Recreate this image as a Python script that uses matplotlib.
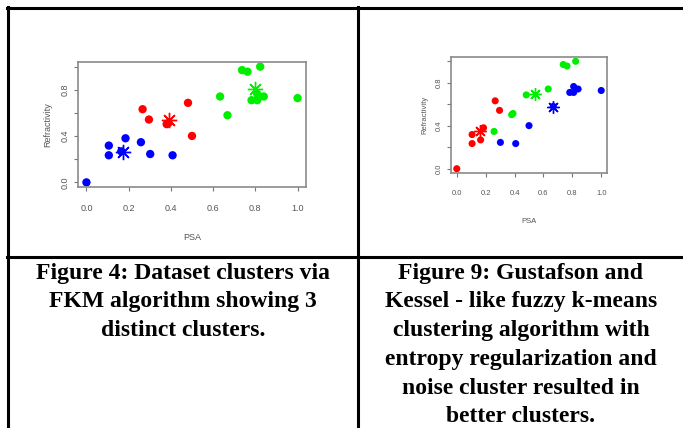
import matplotlib
matplotlib.use("Agg")
import matplotlib.pyplot as plt
from matplotlib.lines import Line2D

# shared data (PSA vs Refractivity, 24 points)
psa = [0.0, 0.106, 0.106, 0.165, 0.185, 0.258, 0.302, 0.408,
       0.266, 0.296, 0.38, 0.389, 0.481, 0.5,
       0.633, 0.668, 0.737, 0.763, 0.823, 0.782, 0.809, 0.809, 0.84, 1.0]
refr = [0.0, 0.318, 0.234, 0.268, 0.381, 0.347, 0.245, 0.234,
        0.632, 0.543, 0.503, 0.514, 0.687, 0.401,
        0.742, 0.58, 0.97, 0.956, 1.0, 0.71, 0.71, 0.765, 0.742, 0.728]

BLUE, RED, GREEN = "#0000ff", "#ff0000", "#00ee00"

# cluster labels for each figure
fkm_labels = [BLUE] * 8 + [RED] * 6 + [GREEN] * 10
gk_labels = [RED, RED, RED, RED, RED, GREEN, BLUE, BLUE,
             RED, RED, GREEN, GREEN, GREEN, BLUE,
             GREEN, BLUE, GREEN, GREEN, GREEN, BLUE, BLUE, BLUE, BLUE, BLUE]

# cluster centres
fkm_cx = [0.171, 0.389, 0.799]
fkm_cy = [0.266, 0.543, 0.803]
fkm_cc = [BLUE, RED, GREEN]
gk_cx = [0.161, 0.544, 0.664]
gk_cy = [0.35, 0.697, 0.578]
gk_cc = [RED, GREEN, BLUE]

x_ticks = [0.0, 0.2, 0.4, 0.6, 0.8, 1.0]
x_ticklabels = ["0.0", "0.2", "0.4", "0.6", "0.8", "1.0"]
y_ticks = [0.0, 0.2, 0.4, 0.6, 0.8, 1.0]
y_ticklabels = ["0.0", "", "0.4", "", "0.8", ""]

cap_left = ["Figure 4: Dataset clusters via",
            "FKM algorithm showing 3",
            "distinct clusters."]
cap_right = ["Figure 9: Gustafson and",
             "Kessel - like fuzzy k-means",
             "clustering algorithm with",
             "entropy regularization and",
             "noise cluster resulted in",
             "better clusters."]

W, H = 683, 428
fig = plt.figure(figsize=(W / 100, H / 100), dpi=100)
fig.patch.set_facecolor("white")
plt.rcParams["font.family"] = ["Liberation Sans", "DejaVu Sans"]


def r_plot(box, labels, cx, cy, cc, ms, star_ms, fs, tick_pad, xlab_pad, ylab_pad):
    l, t, r, b = box
    ax = fig.add_axes([l / W, 1 - b / H, (r - l) / W, (b - t) / H])
    ax.scatter(psa, refr, c=labels, s=ms, linewidths=0, zorder=2)
    for x, y, c in zip(cx, cy, cc):
        ax.plot(x, y, marker=(8, 2, 0), color=c, markersize=star_ms, mew=1.0, zorder=3)
    ax.set_xlim(-0.04, 1.04)
    ax.set_ylim(-0.04, 1.04)
    ax.set_xticks(x_ticks)
    ax.set_xticklabels(x_ticklabels)
    ax.set_yticks(y_ticks)
    ax.set_yticklabels(y_ticklabels, rotation=90, va="center")
    for s in ax.spines.values():
        s.set_color("#8a8a8a")
        s.set_linewidth(1.2)
    ax.tick_params(direction="out", length=3, width=0.8, color="#777777",
                   labelcolor="#555555", labelsize=fs)
    ax.tick_params(axis="x", pad=tick_pad)
    ax.tick_params(axis="y", pad=3)
    ax.set_xlabel("PSA", fontsize=fs, color="#555555", labelpad=xlab_pad)
    ax.set_ylabel("Refractivity", fontsize=fs, color="#555555", labelpad=ylab_pad)
    return ax


r_plot((78, 62, 306, 187), fkm_labels, fkm_cx, fkm_cy, fkm_cc, 36, 11, 6.5, 9, 15, 6)
r_plot((451, 57, 607, 173), gk_labels, gk_cx, gk_cy, gk_cc, 26, 9, 5.5, 9, 15, 5)

# table borders
lw = 2.2
fig.add_artist(Line2D([7 / W, 1], [1 - 8 / H, 1 - 8 / H], color="black", lw=lw))
fig.add_artist(Line2D([7 / W, 1], [1 - 257 / H, 1 - 257 / H], color="black", lw=lw))
fig.add_artist(Line2D([8 / W, 8 / W], [0, 1 - 7 / H], color="black", lw=lw))
fig.add_artist(Line2D([358 / W, 358 / W], [0, 1 - 7 / H], color="black", lw=lw))

# captions
for i, line in enumerate(cap_left):
    fig.text(183 / W, 1 - (273 + 28.8 * i) / H, line, ha="center", va="center",
             fontsize=17, fontweight="bold", family="Liberation Serif")
for i, line in enumerate(cap_right):
    fig.text(521 / W, 1 - (273 + 28.8 * i) / H, line, ha="center", va="center",
             fontsize=17, fontweight="bold", family="Liberation Serif")

fig.savefig("out.png", dpi=100)
